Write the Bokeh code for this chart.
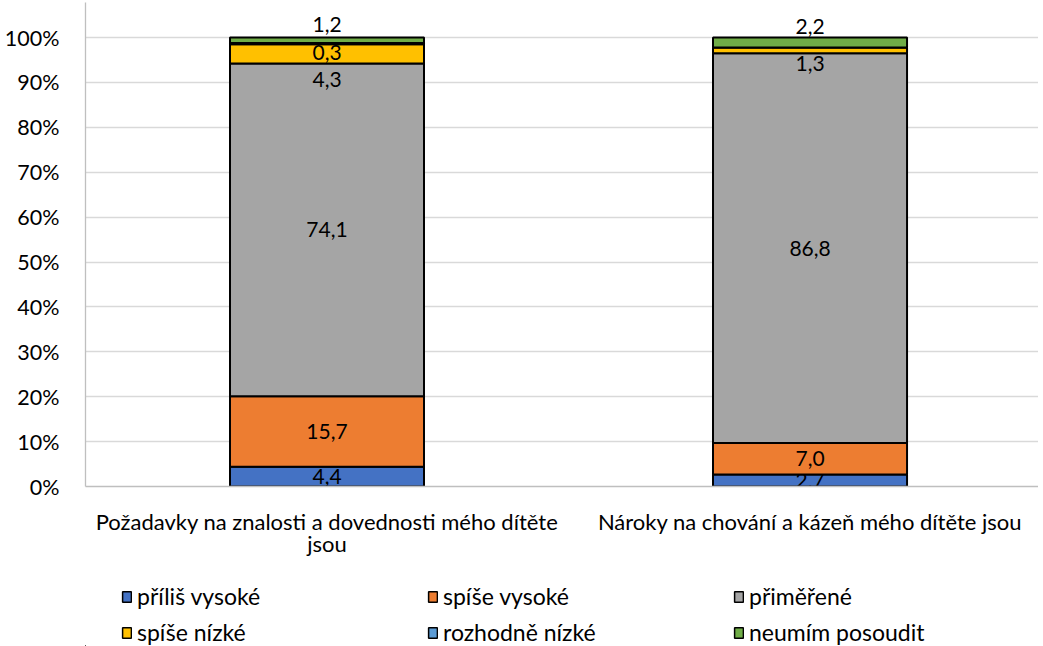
import numpy as np
from bokeh.plotting import figure
from bokeh.layouts import column
from bokeh.models import (Range1d, FixedTicker, ColumnDataSource, Legend, LegendItem)
from bokeh.core.properties import value
from bokeh.embed import file_html
from bokeh.resources import INLINE

categories = ["Požadavky na znalosti a dovednosti mého dítěte\njsou",
              "Nároky na chování a kázeň mého dítěte jsou"]
series_names = ["příliš vysoké", "spíše vysoké", "přiměřené",
                "spíše nízké", "rozhodně nízké", "neumím posoudit"]
prilis_vysoke = [4.4, 2.7]
spise_vysoke = [15.7, 7.0]
primerene = [74.1, 86.8]
spise_nizke = [4.3, 1.3]
rozhodne_nizke = [0.3, 0.0]
neumim = [1.2, 2.2]
y_ticks = [0, 10, 20, 30, 40, 50, 60, 70, 80, 90, 100]

colors = ["#4472C4", "#ED7D31", "#A5A5A5", "#FFC000", "#5B9BD5", "#70AD47"]
# manual pixel nudges (screen px, + = down) of data labels, as moved in the original
label_nudge = [[0, 0], [0, 0], [0, 0], [26, 13], [9, 0], [-16, -16]]

FONT = "Lato"
series = [prilis_vysoke, spise_vysoke, primerene, spise_nizke, rozhodne_nizke, neumim]
xs = [0.5, 1.5]
BAR_W = 0.4017
W = 1038

p = figure(width=W, height=581, output_backend="svg", toolbar_location=None,
           x_range=Range1d(0, 1.973), y_range=Range1d(0, 107.8),
           min_border_left=85, min_border_right=0, min_border_top=2, min_border_bottom=95)
p.outline_line_color = None

lf = figure(width=W, height=65, output_backend="svg", toolbar_location=None,
            x_range=Range1d(10, 11), y_range=Range1d(1000, 1001),
            x_axis_location=None, y_axis_location=None, min_border=0)
lf.outline_line_color = None
lf.grid.visible = False

bottoms = np.zeros(2)
legend_renderers = []
for i, vals in enumerate(series):
    v = np.array(vals, dtype=float)
    tops = bottoms + v
    src = ColumnDataSource(dict(x=xs, bottom=bottoms.copy(), top=tops.copy()))
    p.vbar(x="x", bottom="bottom", top="top", width=BAR_W, source=src,
           fill_color=colors[i], line_color="black", line_width=2)
    # same bars in the legend figure (outside its visible range) for legend swatches
    lr = lf.vbar(x="x", bottom="bottom", top="top", width=BAR_W, source=src,
                 fill_color=colors[i], line_color="black", line_width=1.5)
    legend_renderers.append(lr)
    lx, ly, lt, lo = [], [], [], []
    for j in range(2):
        if v[j] > 0:
            lx.append(xs[j]); ly.append((bottoms[j] + tops[j]) / 2)
            lt.append(f"{v[j]:.1f}".replace(".", ",")); lo.append(label_nudge[i][j])
    lsrc = ColumnDataSource(dict(x=lx, y=ly, t=lt, o=lo))
    p.text(x="x", y="y", text="t", y_offset="o", source=lsrc, text_align="center",
           text_baseline="middle", text_font=value(FONT), text_font_size="21px",
           text_color="black")
    bottoms = tops

p.xgrid.grid_line_color = None
p.ygrid.grid_line_color = "#d9d9d9"
p.ygrid.grid_line_width = 1.3
p.yaxis.ticker = FixedTicker(ticks=y_ticks)
p.yaxis.major_label_overrides = {t: f"{t}%" for t in y_ticks}
p.xaxis.ticker = FixedTicker(ticks=xs)
p.xaxis.major_label_overrides = {xs[k]: categories[k] for k in range(2)}

for ax in (p.xaxis, p.yaxis):
    ax.axis_line_color = "#bfbfbf"
    ax.axis_line_width = 1.3
    ax.major_tick_line_color = None
    ax.minor_tick_line_color = None
    ax.major_label_text_font = FONT
    ax.major_label_text_color = "black"
p.yaxis.major_label_text_font_size = "21.5px"
p.xaxis.major_label_text_font_size = "22px"
p.xaxis.major_label_text_line_height = 0.85
p.yaxis.major_label_standoff = 20
p.xaxis.major_label_standoff = 15

items = [LegendItem(label=series_names[i], renderers=[legend_renderers[i]]) for i in range(6)]
legend = Legend(items=items, orientation="horizontal", ncols=3,
                glyph_width=11, glyph_height=13, label_standoff=5, label_width=282,
                label_height=20, spacing=8, label_text_font=FONT,
                label_text_font_size="23px", label_text_color="black",
                label_text_baseline="middle",
                border_line_color=None, background_fill_alpha=0, padding=0, margin=0,
                location=(36, 0))
lf.add_layout(legend, "center")

open("out.html", "w").write(file_html(column(p, lf, spacing=0), INLINE))
